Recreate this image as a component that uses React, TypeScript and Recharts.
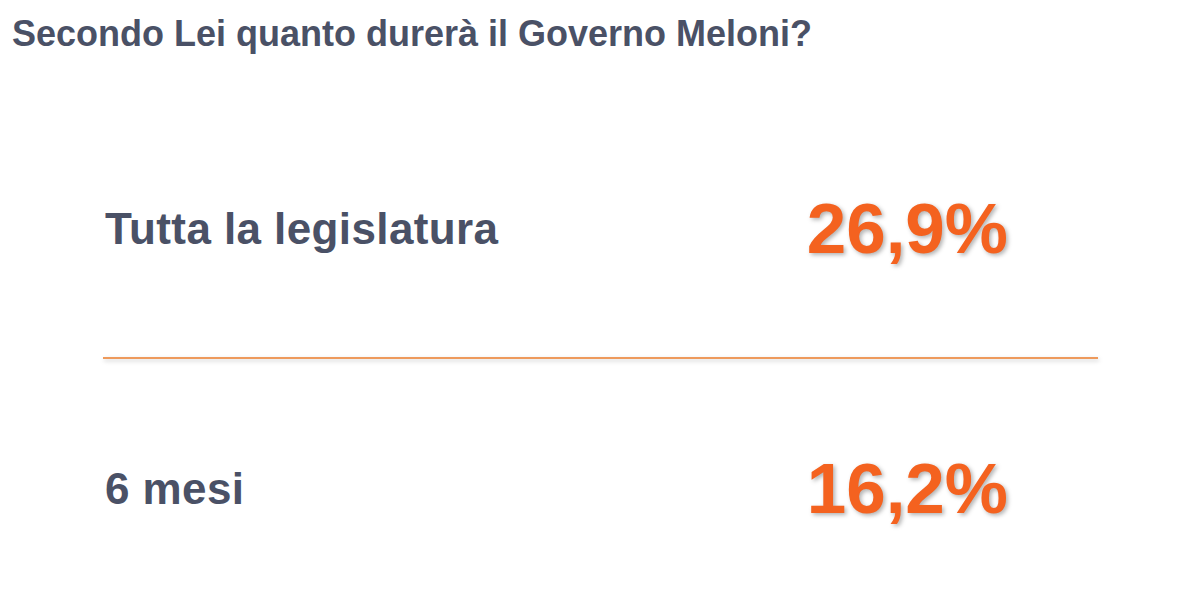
import { BarChart, Bar, XAxis, YAxis, ReferenceLine } from "recharts";

const title = "Secondo Lei quanto durerà il Governo Meloni?";
const answers = ["Tutta la legislatura", "6 mesi"];
const shares = [26.9, 16.2];

const data = answers.map((label, i) => ({ label, value: shares[i] }));

const SLATE = "#4a5166";
const ORANGE = "#f4621f";
const FONT = "'Liberation Sans', Arial, sans-serif";

function formatShare(v: number) {
  return v.toFixed(1).replace(".", ",") + "%";
}

function renderLabelTick(props: any) {
  const { x, y, payload } = props;
  return (
    <text
      key={payload.value}
      x={x}
      y={y}
      textAnchor="start"
      dominantBaseline="central"
      fill={SLATE}
      fontFamily={FONT}
      fontWeight={700}
      fontSize={44}
      letterSpacing={0.4}
    >
      {payload.value}
    </text>
  );
}

function renderShareTick(props: any) {
  const { x, y, payload } = props;
  return (
    <text
      key={payload.value}
      x={x}
      y={y}
      textAnchor="end"
      dominantBaseline="central"
      fill={ORANGE}
      fontFamily={FONT}
      fontWeight={700}
      fontSize={71}
      style={{ filter: "drop-shadow(2px 2px 2px rgba(0,0,0,0.3))" }}
    >
      {formatShare(Number(payload.value))}
    </text>
  );
}

export default function App() {
  return (
    <div
      style={{
        position: "absolute",
        left: 0,
        top: 0,
        width: 1200,
        height: 611,
        overflow: "hidden",
        background: "#fff",
      }}
    >
      <div
        style={{
          position: "absolute",
          left: 12,
          top: 13,
          fontFamily: FONT,
          fontWeight: 700,
          fontSize: 36,
          color: SLATE,
          whiteSpace: "nowrap",
        }}
      >
        {title}
      </div>
      <BarChart
        width={1200}
        height={640}
        data={data}
        layout="vertical"
        margin={{ top: 98, right: 102, bottom: 22, left: 103 }}
      >
        <XAxis type="number" domain={[0, 100]} hide />
        <YAxis
          yAxisId="left"
          type="category"
          dataKey="label"
          mirror
          axisLine={false}
          tickLine={false}
          tickSize={0}
          tickMargin={2}
          interval={0}
          tick={renderLabelTick}
        />
        <YAxis
          yAxisId="right"
          orientation="right"
          type="category"
          dataKey="value"
          mirror
          axisLine={false}
          tickLine={false}
          tickSize={0}
          tickMargin={90}
          interval={0}
          tick={renderShareTick}
        />
        <Bar yAxisId="left" dataKey="value" fill="transparent" isAnimationActive={false} />
        <ReferenceLine
          yAxisId="left"
          y={answers[0]}
          position="end"
          stroke="#ee9a5c"
          strokeWidth={2}
          style={{ filter: "drop-shadow(1px 2px 2px rgba(0,0,0,0.2))" }}
        />
      </BarChart>
    </div>
  );
}
